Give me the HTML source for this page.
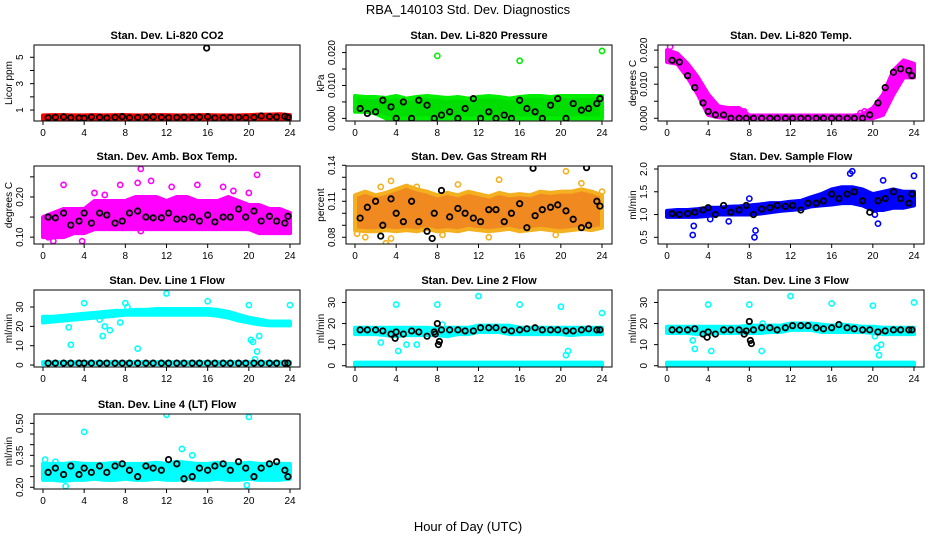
<!DOCTYPE html>
<html><head><meta charset="utf-8">
<style>
html,body{margin:0;padding:0;background:#fff;}
svg{display:block;font-family:"Liberation Sans",sans-serif;}
</style></head>
<body>
<svg id="chart" width="936" height="540" viewBox="0 0 936 540">
<text x="468" y="14" text-anchor="middle" font-size="13">RBA_140103  Std. Dev. Diagnostics</text>
<text x="468" y="531" text-anchor="middle" font-size="13">Hour of Day (UTC)</text>
</svg>
<script>
const hrs = [0,1,2,3,4,5,6,7,8,9,10,11,12,13,14,15,16,17,18,19,20,21,22,23,24];
const blkHours = [0.5,1.2,2,2.7,3.5,4,4.7,5.5,6.2,7,7.7,8.4,9.2,10,10.7,11.5,12.2,13,13.7,14.5,15.2,16,16.7,17.5,18.2,19,19.7,20.5,21.2,22,22.7,23.5,23.8];
const xTicks = [0,4,8,12,16,20,24];

const co2Lo = [0.3,0.3,0.3,0.3,0.3,0.3,0.3,0.3,0.3,0.3,0.3,0.3,0.3,0.3,0.3,0.3,0.3,0.3,0.3,0.3,0.3,0.3,0.3,0.3,0.3];
const co2Hi = [0.6,0.62,0.62,0.6,0.6,0.62,0.6,0.62,0.62,0.6,0.6,0.62,0.62,0.6,0.6,0.62,0.62,0.6,0.6,0.6,0.62,0.65,0.65,0.68,0.62];
const co2OutX = [];
const co2OutY = [];
const co2Blk = [0.42,0.45,0.48,0.42,0.40,0.38,0.47,0.45,0.40,0.45,0.50,0.42,0.44,0.46,0.48,0.45,0.42,0.44,0.46,0.45,0.47,0.50,0.40,0.42,0.44,0.45,0.42,0.45,0.55,0.50,0.48,0.52,0.45];
const co2ExX = [15.9];
const co2ExY = [5.7];

const presLo = [0.002,0.002,0.0015,0,0,0,0,0,0,0,0,0,0,0,0,0,0,0,0,0,0,0,0,0,0];
const presHi = [0.0068,0.0065,0.0065,0.0062,0.0068,0.006,0.0065,0.0068,0.0065,0.0062,0.0065,0.006,0.0065,0.0068,0.0065,0.006,0.0065,0.0068,0.0068,0.0065,0.0068,0.0068,0.0068,0.0068,0.0068];
const presOutX = [8,16,24];
const presOutY = [0.019,0.0175,0.0205];
const presBlk = [0.003,0.0015,0.002,0.0055,0.0035,0,0.005,0,0.0055,0.004,0,0.001,0.002,0,0.003,0.006,0,0.002,0,0.001,0,0.0055,0.003,0.002,0,0.004,0.006,0,0.0045,0.0025,0.003,0.0045,0.006];

const tempLo = [0.0165,0.016,0.012,0.007,0.001,0.0003,0,0,0,0,0,0,0,0,0,0,0,0,0,0,0,0.001,0.007,0.012,0.012];
const tempHi = [0.020,0.019,0.016,0.012,0.007,0.0035,0.003,0.003,0.0008,0.0008,0.0008,0.0008,0.0008,0.0008,0.0008,0.0008,0.0008,0.0008,0.0008,0.0012,0.003,0.007,0.014,0.017,0.016];
const tempOutX = [0.3,7.5,19.2,18.8];
const tempOutY = [0.021,0.002,0.002,0.0015];
const tempBlk = [0.017,0.0165,0.0125,0.009,0.0045,0.002,0.001,0.001,0,0,0,0,0,0,0,0,0,0,0,0,0,0,0,0,0,0,0.001,0.0045,0.009,0.0135,0.0145,0.014,0.0125];

const ambLo = [0.10,0.10,0.10,0.11,0.11,0.12,0.12,0.12,0.12,0.12,0.12,0.12,0.12,0.12,0.12,0.12,0.12,0.12,0.12,0.12,0.12,0.11,0.11,0.11,0.11];
const ambHi = [0.15,0.16,0.17,0.17,0.17,0.19,0.19,0.19,0.19,0.20,0.20,0.20,0.19,0.20,0.20,0.19,0.19,0.19,0.20,0.19,0.18,0.18,0.17,0.17,0.16];
const ambOutX = [2,7.5,9.5,9.2,10.5,12.5,15,17.5,20.8,18.5,1,3.8,9.5,20,0.5,5,6];
const ambOutY = [0.23,0.23,0.27,0.235,0.24,0.225,0.23,0.225,0.255,0.215,0.09,0.09,0.115,0.21,0.10,0.21,0.205];
const ambBlk = [0.15,0.148,0.16,0.13,0.14,0.16,0.135,0.16,0.155,0.135,0.14,0.16,0.165,0.15,0.148,0.148,0.16,0.145,0.145,0.15,0.14,0.155,0.138,0.15,0.15,0.17,0.15,0.165,0.14,0.152,0.14,0.135,0.152];

const rhLo = [0.086,0.085,0.085,0.086,0.085,0.086,0.085,0.087,0.085,0.086,0.085,0.087,0.086,0.085,0.086,0.087,0.085,0.086,0.087,0.086,0.085,0.086,0.087,0.086,0.088];
const rhHi = [0.115,0.118,0.115,0.117,0.12,0.123,0.12,0.118,0.115,0.117,0.115,0.118,0.116,0.114,0.117,0.115,0.116,0.115,0.118,0.117,0.118,0.118,0.12,0.118,0.115];
const rhOutX = [2.5,3.5,3,3.5,10,14,20.5,22,24,1,13,8.5,0.2,6,19.5];
const rhOutY = [0.122,0.127,0.075,0.079,0.124,0.128,0.135,0.125,0.118,0.08,0.08,0.082,0.083,0.122,0.082];
const rhBlk = [0.096,0.105,0.11,0.09,0.112,0.1,0.093,0.11,0.093,0.085,0.1,0.119,0.097,0.104,0.1,0.096,0.093,0.103,0.103,0.093,0.1,0.108,0.088,0.098,0.103,0.105,0.107,0.102,0.095,0.088,0.09,0.11,0.106];
const rhExX = [17.3,22.5,2.5,7.5];
const rhExY = [0.1375,0.138,0.081,0.079];

const sfLo = [0.95,0.95,0.95,0.95,0.97,1,1,1,1,1.02,1.05,1.08,1.1,1.12,1.18,1.2,1.22,1.25,1.25,1.2,1.1,1.1,1.15,1.15,1.2];
const sfHi = [1.08,1.1,1.1,1.12,1.15,1.15,1.17,1.18,1.2,1.22,1.25,1.25,1.28,1.3,1.38,1.45,1.55,1.6,1.6,1.55,1.45,1.5,1.55,1.5,1.5];
const sfOutX = [2.5,2.6,8.5,8.6,8,18,17.8,20.5,20.2,24,21,6,4.2];
const sfOutY = [0.55,0.75,0.5,0.65,1.35,1.95,1.9,0.8,1.0,1.85,1.75,0.85,0.9];
const sfBlk = [1.02,1.0,1.02,1.05,1.1,1.15,1.0,1.2,1.05,1.1,1.2,1.0,1.12,1.15,1.2,1.18,1.2,1.1,1.25,1.25,1.3,1.45,1.35,1.45,1.5,1.3,1.05,1.3,1.35,1.5,1.35,1.25,1.45];

const l1Lo = [22,22.5,23,23.5,24,24.5,25,25.5,26,26,26,26,26,26,26,26,26,25.5,24.5,23,22,21,20.5,20.5,20.5];
const l1Hi = [25,25,25.5,26,26.5,27,27.5,28,28,28.5,28.5,29,29,29,29,29,29,28.5,27.5,26,24.5,23.5,22.5,22.5,22.5];
const l1Lo2 = [0.5,0.5,0.5,0.5,0.5,0.5,0.5,0.5,0.5,0.5,0.5,0.5,0.5,0.5,0.5,0.5,0.5,0.5,0.5,0.5,0.5,0.5,0.5,0.5,0.5];
const l1Hi2 = [1.5,1.5,1.5,1.5,1.5,1.5,1.5,1.5,1.5,1.5,1.5,1.5,1.5,1.5,1.5,1.5,1.5,1.5,1.5,1.5,1.5,1.5,1.5,1.5,1.5];
const l1OutX = [2.5,2.7,4,5.5,5.8,6,6.5,7.5,8,8.2,9.2,12,16,20,20.2,20.4,20.6,20.8,21,24];
const l1OutY = [19.5,10.5,32,23.5,15,20,18,22,32,30,8.5,37,33,31,13,12,3,7,15,31];
const l1Blk = [1,1,1,1,1,1,1,1,1,1,1,1,1,1,1,1,1,1,1,1,1,1,1,1,1,1,1,1,1,1,1,1,1];

const l2Lo = [15,15,15,14.5,14,14.5,14.5,14.5,14.5,14,15,15,16,16,16,15,15,15,15,15,15,14.5,15,15,15];
const l2Hi = [18,18,18,18,18,18,18,18,17.5,18,18,18,19,19,19,19,18,18,18,18,18,18,18,18,18];
const l2Lo2 = [0,0,0,0,0,0,0,0,0,0,0,0,0,0,0,0,0,0,0,0,0,0,0,0,0];
const l2Hi2 = [1.5,1.5,1.5,1.5,1.5,1.5,1.5,1.5,1.5,1.5,1.5,1.5,1.5,1.5,1.5,1.5,1.5,1.5,1.5,1.5,1.5,1.5,1.5,1.5,1.5];
const l2OutX = [4,4.2,8,8.5,12,16,20,20.5,20.7,24,2.5,5,6];
const l2OutY = [29,7,29,19.5,33,29,28,5,7,25,11,10,10];
const l2Blk = [17,17,17,16.5,15,16,15,16.5,16,14,16,17,17,17,16.5,16.5,18,18,18,17,16.5,17,17.5,18,17,17,17,16.5,16.5,17,17.5,17,17];
const l2ExX = [7.8,8,8.1,8.2,3.9];
const l2ExY = [15,20,10,11.5,13];

const l3Lo = [15.5,15.5,15.5,15,15,15.5,15.5,15.5,15.5,15.5,16,16,17,17,17,16,16,16,16,16,15.5,15,15,15,15];
const l3Hi = [18.5,18.5,18.5,18.5,18.5,18.5,18.5,18.5,19,19,19,19,20,20,20,19.5,19,19.5,19,18.5,18.5,18,18,18,18];
const l3Lo2 = [0,0,0,0,0,0,0,0,0,0,0,0,0,0,0,0,0,0,0,0,0,0,0,0,0];
const l3Hi2 = [1.5,1.5,1.5,1.5,1.5,1.5,1.5,1.5,1.5,1.5,1.5,1.5,1.5,1.5,1.5,1.5,1.5,1.5,1.5,1.5,1.5,1.5,1.5,1.5,1.5];
const l3OutX = [4,4.3,8,9.2,12,16,20,20.2,20.4,20.6,20.8,24,2.5,2.7,9.3];
const l3OutY = [29,7,29,7,33,29.5,28.5,14,8.5,5,10,30,12,8,20];
const l3Blk = [17,17,17,17.5,15,16,15,17,17,17,16.5,17,18,18,17,18,19,19,19,18,17.5,18,19.5,18,17.5,17,17,16,16.5,17,17,17,17];
const l3ExX = [8,8.1,8.2,3.9,7.5];
const l3ExY = [21,12,10.5,13.5,15];

const l4Lo = [0.235,0.235,0.23,0.235,0.235,0.24,0.235,0.235,0.24,0.235,0.235,0.24,0.235,0.235,0.24,0.235,0.235,0.24,0.235,0.235,0.24,0.235,0.235,0.235,0.24];
const l4Hi = [0.31,0.31,0.31,0.315,0.31,0.31,0.31,0.315,0.31,0.31,0.31,0.315,0.31,0.32,0.315,0.31,0.31,0.315,0.31,0.31,0.315,0.31,0.31,0.31,0.31];
const l4OutX = [4,12,20,13.5,2.2,19.8,14.5,0.2,1.2];
const l4OutY = [0.46,0.54,0.53,0.38,0.205,0.21,0.35,0.33,0.32];
const l4Blk = [0.27,0.29,0.26,0.3,0.26,0.29,0.27,0.3,0.27,0.3,0.31,0.28,0.25,0.3,0.29,0.28,0.33,0.31,0.24,0.25,0.29,0.28,0.3,0.31,0.28,0.32,0.29,0.25,0.29,0.31,0.32,0.28,0.25];

const co2Ticks = [1,2,3,4,5];      const co2Labels = ["1","","3","","5"];
const presTicks = [0,0.005,0.01,0.015,0.02]; const presLabels = ["0.000","","0.010","","0.020"];
const tempTicks = [0,0.005,0.01,0.015,0.02]; const tempLabels = ["0.000","","0.010","","0.020"];
const ambTicks = [0.10,0.15,0.20,0.25]; const ambLabels = ["0.10","","0.20",""];
const rhTicks = [0.08,0.09,0.10,0.11,0.12,0.13,0.14]; const rhLabels = ["0.08","","","0.11","","","0.14"];
const sfTicks = [0.5,1.0,1.5,2.0]; const sfLabels = ["0.5","1.0","1.5","2.0"];
const flowTicks = [0,10,20,30]; const flowLabels = ["0","10","20","30"];
const l4Ticks = [0.20,0.25,0.30,0.35,0.40,0.45,0.50]; const l4Labels = ["0.20","","","0.35","","","0.50"];

const colLeft = [34,346,658], colRight = [300,612,924];
const rowTop = [45,166,290,414], rowBot = [121,244,367,489];

const panels = [
 {name:'co2',title:'Stan. Dev. Li-820 CO2',ylab:'Licor ppm',c:0,r:0,ymin:0.17,ymax:5.93,lo:co2Lo,hi:co2Hi,ox:co2OutX,oy:co2OutY,blk:co2Blk,ex:co2ExX,ey:co2ExY,ticks:co2Ticks,labels:co2Labels,fill:'#ff0000',stroke:'#ff0000'},
 {name:'pressure',title:'Stan. Dev. Li-820 Pressure',ylab:'kPa',c:1,r:0,ymin:-0.0008,ymax:0.0223,lo:presLo,hi:presHi,ox:presOutX,oy:presOutY,blk:presBlk,ticks:presTicks,labels:presLabels,fill:'#00dd00',stroke:'#00ee00'},
 {name:'temp',title:'Stan. Dev. Li-820 Temp.',ylab:'degrees C',c:2,r:0,ymin:-0.0008,ymax:0.0215,lo:tempLo,hi:tempHi,ox:tempOutX,oy:tempOutY,blk:tempBlk,ticks:tempTicks,labels:tempLabels,fill:'#ff00ff',stroke:'#ff00ff'},
 {name:'amb-box-temp',title:'Stan. Dev. Amb. Box Temp.',ylab:'degrees C',c:0,r:1,ymin:0.083,ymax:0.277,lo:ambLo,hi:ambHi,ox:ambOutX,oy:ambOutY,blk:ambBlk,ticks:ambTicks,labels:ambLabels,fill:'#ff00ff',stroke:'#ff00ff'},
 {name:'gas-rh',title:'Stan. Dev. Gas Stream RH',ylab:'percent',c:1,r:1,ymin:0.0744,ymax:0.1394,lo:rhLo,hi:rhHi,ox:rhOutX,oy:rhOutY,blk:rhBlk,ex:rhExX,ey:rhExY,ticks:rhTicks,labels:rhLabels,fill:'#f08a20',stroke:'#f5b020'},
 {name:'sample-flow',title:'Stan. Dev. Sample Flow',ylab:'ml/min',c:2,r:1,ymin:0.353,ymax:2.066,lo:sfLo,hi:sfHi,ox:sfOutX,oy:sfOutY,blk:sfBlk,ticks:sfTicks,labels:sfLabels,fill:'#0000ff',stroke:'#0000ff'},
 {name:'line1-flow',title:'Stan. Dev. Line 1 Flow',ylab:'ml/min',c:0,r:2,ymin:-1.0,ymax:38.8,lo:l1Lo,hi:l1Hi,lo2:l1Lo2,hi2:l1Hi2,ox:l1OutX,oy:l1OutY,blk:l1Blk,ticks:flowTicks,labels:flowLabels,fill:'#00ffff',stroke:'#00ffff'},
 {name:'line2-flow',title:'Stan. Dev. Line 2 Flow',ylab:'ml/min',c:1,r:2,ymin:-0.6,ymax:35.9,lo:l2Lo,hi:l2Hi,lo2:l2Lo2,hi2:l2Hi2,ox:l2OutX,oy:l2OutY,blk:l2Blk,ex:l2ExX,ey:l2ExY,ticks:flowTicks,labels:flowLabels,fill:'#00ffff',stroke:'#00ffff'},
 {name:'line3-flow',title:'Stan. Dev. Line 3 Flow',ylab:'ml/min',c:2,r:2,ymin:-0.6,ymax:35.9,lo:l3Lo,hi:l3Hi,lo2:l3Lo2,hi2:l3Hi2,ox:l3OutX,oy:l3OutY,blk:l3Blk,ex:l3ExX,ey:l3ExY,ticks:flowTicks,labels:flowLabels,fill:'#00ffff',stroke:'#00ffff'},
 {name:'line4-flow',title:'Stan. Dev. Line 4 (LT) Flow',ylab:'ml/min',c:0,r:3,ymin:0.192,ymax:0.544,lo:l4Lo,hi:l4Hi,ox:l4OutX,oy:l4OutY,blk:l4Blk,ticks:l4Ticks,labels:l4Labels,fill:'#00ffff',stroke:'#00ffff'}
];

const NS='http://www.w3.org/2000/svg';
const svg=document.getElementById('chart');
function mk(tag,attrs,parent){const e=document.createElementNS(NS,tag);for(const k in attrs)e.setAttribute(k,attrs[k]);(parent||svg).appendChild(e);return e;}

panels.forEach(p=>{
  const L=colLeft[p.c],R=colRight[p.c],T=rowTop[p.r],B=rowBot[p.r];
  const x0=L+9,x1=R-10;
  const xs=v=>x0+(x1-x0)*v/24;
  const ys=v=>B-(B-T)*(v-p.ymin)/(p.ymax-p.ymin);
  const g=mk('g',{});
  
  
  const clip=mk('clipPath',{id:'clip-'+p.name},g);
  mk('rect',{x:L,y:T,width:R-L,height:B-T},clip);
  const plot=mk('g',{'clip-path':'url(#clip-'+p.name+')'},g);
  
  
  function band(lo,hi,nm){
    let pts=hrs.map((h,i)=>xs(h)+','+ys(hi[i]));
    for(let i=hrs.length-1;i>=0;i--)pts.push(xs(hrs[i])+','+ys(lo[i]));
    const poly=mk('polygon',{points:pts.join(' '),fill:p.fill,stroke:p.stroke,'stroke-width':4,'stroke-linejoin':'round'},plot);
    
    
  }
  band(p.lo,p.hi,p.name+'-band');
  if(p.lo2)band(p.lo2,p.hi2,p.name+'-baseline-band');
  p.ox.forEach((x,i)=>{
    const c=mk('circle',{cx:xs(x),cy:ys(p.oy[i]),r:2.6,fill:'none',stroke:p.stroke,'stroke-width':1.6},plot);
    
    
  });
  const bx=blkHours.slice(), by=p.blk.slice();
  if(p.ex){p.ex.forEach((x,i)=>{bx.push(x);by.push(p.ey[i]);});}
  bx.forEach((x,i)=>{
    const c=mk('circle',{cx:xs(x),cy:ys(by[i]),r:2.7,fill:'none',stroke:'#000','stroke-width':1.8},plot);
    
    
  });
  const box=mk('rect',{x:L,y:T,width:R-L,height:B-T,fill:'none',stroke:'#000','stroke-width':1},g);
  
  
  const t=mk('text',{x:(L+R)/2,y:T-6,'text-anchor':'middle','font-size':11,'font-weight':'bold'},g);
  t.textContent=p.title;
  
  
  mk('line',{x1:x0,y1:B,x2:x1,y2:B,stroke:'#000'},g);
  xTicks.forEach(v=>{
    mk('line',{x1:xs(v),y1:B,x2:xs(v),y2:B+4,stroke:'#000'},g);
    const tx=mk('text',{x:xs(v),y:B+15,'text-anchor':'middle','font-size':10},g);
    tx.textContent=v;
    
    
  });
  const yt0=ys(p.ticks[0]),yt1=ys(p.ticks[p.ticks.length-1]);
  mk('line',{x1:L,y1:yt0,x2:L,y2:yt1,stroke:'#000'},g);
  p.ticks.forEach((v,i)=>{
    const y=ys(v);
    mk('line',{x1:L-4,y1:y,x2:L,y2:y,stroke:'#000'},g);
    if(p.labels[i]){
      const tx=mk('text',{x:L-11,y:y,'text-anchor':'middle','font-size':10,transform:'rotate(-90 '+(L-11)+' '+y+')'},g);
      tx.textContent=p.labels[i];
      
      
    }
  });
  const yl=mk('text',{x:L-22,y:(T+B)/2,'text-anchor':'middle','font-size':10,transform:'rotate(-90 '+(L-22)+' '+((T+B)/2)+')'},g);
  yl.textContent=p.ylab;
  
  
});
</script>
</body></html>
